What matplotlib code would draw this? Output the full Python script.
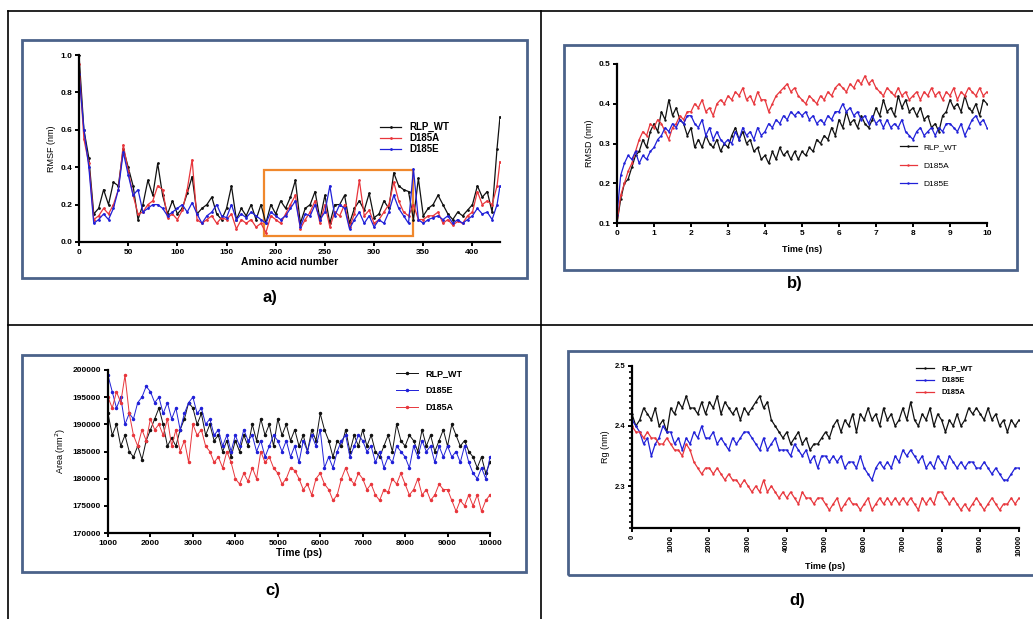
import numpy as np
import matplotlib
matplotlib.use("Agg")
import matplotlib.pyplot as plt
from matplotlib.patches import Rectangle
from matplotlib.lines import Line2D
from matplotlib.ticker import FormatStrFormatter

plt.rcParams['font.family'] = ['Liberation Sans', 'DejaVu Sans']

W, H = 1033, 619

# ---- a) RMSF per residue ----
residue = list(range(0, 430, 5)) + [428]
rmsf_wt = [1.0, 0.6, 0.45, 0.15, 0.18, 0.28, 0.2, 0.32, 0.3, 0.5, 0.4, 0.3, 0.12, 0.2, 0.33, 0.25,
           0.42, 0.25, 0.15, 0.22, 0.15, 0.18, 0.26, 0.35, 0.15, 0.18, 0.2, 0.24, 0.15, 0.12,
           0.18, 0.3, 0.12, 0.18, 0.14, 0.2, 0.12, 0.2, 0.1, 0.2, 0.15, 0.22, 0.18, 0.24, 0.33,
           0.1, 0.18, 0.2, 0.27, 0.12, 0.25, 0.1, 0.2, 0.2, 0.25, 0.1, 0.18, 0.22, 0.17, 0.26,
           0.13, 0.15, 0.22, 0.18, 0.37, 0.3, 0.28, 0.27, 0.12, 0.34, 0.14, 0.18, 0.2, 0.25,
           0.2, 0.15, 0.12, 0.16, 0.14, 0.17, 0.2, 0.3, 0.24, 0.27, 0.16, 0.5, 0.67]
rmsf_d185a = [0.95, 0.55, 0.42, 0.12, 0.14, 0.18, 0.15, 0.2, 0.28, 0.52, 0.38, 0.25, 0.15, 0.16, 0.2,
              0.22, 0.3, 0.28, 0.13, 0.15, 0.12, 0.17, 0.28, 0.44, 0.12, 0.1, 0.12, 0.14, 0.1,
              0.13, 0.12, 0.15, 0.07, 0.12, 0.1, 0.12, 0.08, 0.1, 0.05, 0.14, 0.12, 0.1, 0.15,
              0.2, 0.25, 0.07, 0.12, 0.16, 0.22, 0.1, 0.2, 0.08, 0.16, 0.14, 0.2, 0.08, 0.15,
              0.33, 0.14, 0.17, 0.1, 0.12, 0.16, 0.2, 0.32, 0.22, 0.16, 0.14, 0.2, 0.12, 0.12,
              0.14, 0.14, 0.16, 0.1, 0.12, 0.09, 0.11, 0.1, 0.14, 0.16, 0.27, 0.2, 0.22, 0.2,
              0.3, 0.43]
rmsf_d185e = [0.9, 0.6, 0.4, 0.1, 0.12, 0.15, 0.12, 0.18, 0.28, 0.48, 0.36, 0.25, 0.28, 0.16, 0.18,
              0.2, 0.2, 0.18, 0.14, 0.16, 0.18, 0.2, 0.16, 0.21, 0.15, 0.1, 0.14, 0.16, 0.2,
              0.14, 0.13, 0.2, 0.12, 0.15, 0.13, 0.16, 0.14, 0.12, 0.1, 0.16, 0.14, 0.12, 0.14,
              0.18, 0.22, 0.08, 0.15, 0.14, 0.2, 0.12, 0.16, 0.3, 0.14, 0.2, 0.18, 0.07, 0.12,
              0.16, 0.1, 0.14, 0.08, 0.12, 0.1, 0.16, 0.25, 0.18, 0.14, 0.1, 0.39, 0.12, 0.1,
              0.12, 0.13, 0.14, 0.12, 0.14, 0.1, 0.12, 0.1, 0.12, 0.14, 0.18, 0.15, 0.16, 0.12,
              0.2, 0.3]

# ---- b) RMSD vs time (ns), every 0.1 ns ----
time_ns = [i / 10 for i in range(101)]
rmsd_wt = [0.10, 0.16, 0.20, 0.21, 0.24, 0.27, 0.28, 0.31, 0.29, 0.33,
           0.35, 0.33, 0.38, 0.36, 0.41, 0.37, 0.39, 0.36, 0.35, 0.32,
           0.34, 0.29, 0.31, 0.29, 0.32, 0.30, 0.29, 0.31, 0.28, 0.30,
           0.29, 0.32, 0.34, 0.31, 0.33, 0.30, 0.31, 0.28, 0.29, 0.26,
           0.27, 0.25, 0.28, 0.26, 0.29, 0.27, 0.28, 0.26, 0.28, 0.26,
           0.28, 0.27, 0.29, 0.28, 0.31, 0.30, 0.32, 0.31, 0.34, 0.32,
           0.36, 0.34, 0.38, 0.35, 0.36, 0.34, 0.37, 0.35, 0.34, 0.36,
           0.39, 0.37, 0.41, 0.38, 0.39, 0.37, 0.42, 0.39, 0.41, 0.38,
           0.39, 0.37, 0.39, 0.36, 0.37, 0.34, 0.35, 0.33, 0.37, 0.38,
           0.41, 0.39, 0.40, 0.38, 0.42, 0.39, 0.38, 0.40, 0.37, 0.41,
           0.40]
rmsd_d185a = [0.10, 0.17, 0.20, 0.23, 0.25, 0.28, 0.31, 0.33, 0.32, 0.35,
              0.34, 0.36, 0.35, 0.33, 0.31, 0.34, 0.35, 0.37, 0.36, 0.38,
              0.38, 0.40, 0.39, 0.41, 0.38, 0.39, 0.37, 0.40, 0.41, 0.40,
              0.42, 0.41, 0.43, 0.42, 0.44, 0.41, 0.42, 0.40, 0.43, 0.41,
              0.41, 0.38, 0.40, 0.42, 0.43, 0.44, 0.45, 0.43, 0.44, 0.42,
              0.41, 0.40, 0.42, 0.41, 0.40, 0.42, 0.41, 0.43, 0.42, 0.44,
              0.45, 0.44, 0.43, 0.45, 0.44, 0.46, 0.45, 0.47, 0.45, 0.46,
              0.44, 0.43, 0.42, 0.44, 0.43, 0.42, 0.44, 0.42, 0.43, 0.41,
              0.42, 0.43, 0.41, 0.43, 0.42, 0.44, 0.42, 0.43, 0.41, 0.43,
              0.42, 0.44, 0.41, 0.43, 0.42, 0.44, 0.43, 0.42, 0.44, 0.42,
              0.43]
rmsd_d185e = [0.12, 0.22, 0.25, 0.27, 0.26, 0.28, 0.25, 0.27, 0.26, 0.28,
              0.29, 0.31, 0.32, 0.34, 0.33, 0.35, 0.34, 0.36, 0.35, 0.37,
              0.37, 0.35, 0.34, 0.36, 0.32, 0.34, 0.31, 0.33, 0.31, 0.30,
              0.31, 0.30, 0.33, 0.31, 0.34, 0.32, 0.33, 0.31, 0.34, 0.32,
              0.33, 0.35, 0.34, 0.36, 0.35, 0.37, 0.36, 0.38, 0.37, 0.38,
              0.37, 0.38, 0.36, 0.37, 0.35, 0.36, 0.35, 0.37, 0.36, 0.38,
              0.38, 0.40, 0.38, 0.39, 0.37, 0.38, 0.36, 0.37, 0.35, 0.37,
              0.35, 0.36, 0.34, 0.36, 0.34, 0.35, 0.34, 0.36, 0.33, 0.32,
              0.31, 0.33, 0.34, 0.32, 0.33, 0.34, 0.32, 0.34, 0.33, 0.35,
              0.35, 0.34, 0.33, 0.35, 0.32, 0.34, 0.36, 0.37, 0.35, 0.36,
              0.34]

# ---- c) SASA vs time (ps), every 100 ps ----
time_area = list(range(1000, 10001, 100))
area_wt = [192000, 188000, 190000, 186000, 188000, 185000, 184000, 186000, 183500, 187000,
           189000, 191000, 193000, 190000, 186000, 187500, 186000, 189000, 191000, 194000,
           193000, 190000, 192000, 188000, 190000, 187000, 188000, 185000, 187000, 184000,
           187000, 185000, 188000, 186000, 190000, 187000, 191000, 188000, 190000, 186000,
           191000, 188000, 190000, 187000, 189000, 186000, 188000, 185000, 189000, 187000,
           192000, 189000, 187000, 184000, 187000, 186000, 189000, 185000, 188000, 186000,
           189000, 186000, 188000, 185000, 184000, 186000, 188000, 185000, 190000, 187000,
           186000, 188000, 187000, 185000, 189000, 186000, 188000, 185000, 187000, 189000,
           186000, 190000, 188000, 186000, 187000, 185000, 184000, 182000, 184000, 181000,
           183000]
area_d185e = [199000, 196000, 193000, 195000, 190000, 192000, 191000, 194000, 195000, 197000,
              196000, 194000, 195000, 192000, 194000, 191000, 193000, 189000, 192000, 194000,
              195000, 192000, 193000, 190000, 191000, 188000, 189000, 186000, 188000, 185000,
              188000, 186000, 189000, 187000, 188000, 185000, 187000, 184000, 186000, 188000,
              187000, 185000, 187000, 184000, 186000, 183000, 187000, 185000, 188000, 186000,
              189000, 182000, 184000, 182000, 185000, 187000, 188000, 184000, 186000, 188000,
              187000, 185000, 186000, 183000, 185000, 182000, 184000, 183000, 186000, 185000,
              184000, 182000, 186000, 184000, 187000, 185000, 186000, 183000, 186000, 184000,
              186000, 184000, 185000, 183000, 186000, 183000, 181000, 180000, 182000, 180000,
              184000]
area_d185a = [195000, 193000, 196000, 194000, 199000, 192000, 188000, 186000, 189000, 187000,
              191000, 189000, 190000, 188000, 191000, 186000, 189000, 185000, 187000, 183000,
              190000, 188000, 189000, 186000, 185000, 183000, 184000, 182000, 185000, 183000,
              180000, 179000, 181000, 179500, 182000, 180000, 185000, 183000, 184000, 182000,
              181000, 179000, 180000, 182000, 181500, 180000, 178000, 179000, 177000, 180000,
              181000, 179000, 178000, 176000, 177000, 180000, 182000, 180000, 179000, 181000,
              180000, 178000, 179000, 177000, 176000, 178000, 177500, 180000, 179000, 181000,
              179000, 177000, 178000, 180000, 177000, 178000, 176000, 177000, 179000, 178000,
              178000, 176000, 174000, 176000, 175000, 177000, 175000, 177000, 174000, 176000,
              177000]

# ---- d) Rg vs time (ps), every 100 ps ----
time_rg = list(range(0, 10001, 100))
rg_wt = [2.42, 2.40, 2.41, 2.43, 2.42, 2.41, 2.43, 2.40, 2.41, 2.39,
         2.43, 2.42, 2.44, 2.43, 2.45, 2.43, 2.43, 2.42, 2.44, 2.42,
         2.44, 2.43, 2.45, 2.42, 2.44, 2.43, 2.42, 2.43, 2.41, 2.43,
         2.42, 2.43, 2.44, 2.45, 2.43, 2.44, 2.41, 2.40, 2.39, 2.38,
         2.39, 2.37, 2.38, 2.39, 2.37, 2.38, 2.36, 2.37, 2.37, 2.38,
         2.39, 2.38, 2.40, 2.41, 2.39, 2.41, 2.40, 2.42, 2.39, 2.42,
         2.41, 2.43, 2.41, 2.42, 2.40, 2.43, 2.41, 2.42, 2.40, 2.41,
         2.43, 2.41, 2.44, 2.41, 2.40, 2.42, 2.41, 2.43, 2.40, 2.42,
         2.41, 2.39, 2.41, 2.40, 2.42, 2.40, 2.41, 2.43, 2.42, 2.43,
         2.42, 2.41, 2.43, 2.41, 2.42, 2.40, 2.41, 2.39, 2.41, 2.40,
         2.41]
rg_d185e = [2.41, 2.40, 2.39, 2.37, 2.38, 2.35, 2.37, 2.38, 2.40, 2.39,
            2.39, 2.37, 2.38, 2.36, 2.38, 2.37, 2.39, 2.38, 2.40, 2.38,
            2.38, 2.39, 2.37, 2.38, 2.37, 2.36, 2.38, 2.37, 2.38, 2.39,
            2.39, 2.38, 2.37, 2.36, 2.38, 2.36, 2.37, 2.38, 2.36, 2.36,
            2.36, 2.35, 2.37, 2.36, 2.35, 2.36, 2.34, 2.35, 2.33, 2.35,
            2.35, 2.34, 2.35, 2.34, 2.35, 2.33, 2.34, 2.34, 2.33, 2.35,
            2.33, 2.32, 2.31, 2.33, 2.34, 2.33, 2.34, 2.33, 2.35, 2.34,
            2.36, 2.35, 2.36, 2.35, 2.34, 2.35, 2.33, 2.34, 2.33, 2.35,
            2.34, 2.33, 2.35, 2.34, 2.33, 2.34, 2.33, 2.34, 2.34, 2.33,
            2.33, 2.34, 2.33, 2.32, 2.33, 2.32, 2.31, 2.31, 2.32, 2.33,
            2.33]
rg_d185a = [2.40, 2.39, 2.39, 2.38, 2.39, 2.38, 2.38, 2.37, 2.37, 2.38,
            2.37, 2.36, 2.36, 2.35, 2.37, 2.36, 2.34, 2.33, 2.32, 2.33,
            2.33, 2.32, 2.33, 2.32, 2.31, 2.32, 2.31, 2.31, 2.30, 2.31,
            2.30, 2.29, 2.30, 2.29, 2.31, 2.29, 2.30, 2.29, 2.28, 2.29,
            2.28, 2.29, 2.28, 2.27, 2.29, 2.28, 2.28, 2.27, 2.28, 2.28,
            2.27, 2.26, 2.27, 2.28, 2.26, 2.27, 2.28, 2.27, 2.27, 2.26,
            2.27, 2.28, 2.26, 2.27, 2.28, 2.27, 2.28, 2.27, 2.28, 2.27,
            2.28, 2.27, 2.28, 2.27, 2.26, 2.28, 2.27, 2.28, 2.27, 2.29,
            2.29, 2.28, 2.27, 2.28, 2.27, 2.26, 2.27, 2.26, 2.27, 2.28,
            2.27, 2.26, 2.27, 2.28, 2.27, 2.26, 2.27, 2.27, 2.28, 2.27,
            2.28]

BLACK = '#111111'
RED = '#e8363c'
BLUE = '#2020d8'
FRAME = '#4b628a'


def px_rect(x0, y0, x1, y1):
    return [x0 / W, 1 - y1 / H, (x1 - x0) / W, (y1 - y0) / H]


def style_axes(ax, fs=6):
    for s in ['top', 'right']:
        ax.spines[s].set_visible(False)
    for s in ['left', 'bottom']:
        ax.spines[s].set_linewidth(1.6)
    ax.tick_params(width=1.4, length=3, labelsize=fs, pad=2)
    for lab in ax.get_xticklabels() + ax.get_yticklabels():
        lab.set_fontweight('bold')
    ax.patch.set_alpha(0)


fig = plt.figure(figsize=(W / 100, H / 100), dpi=100)

# table grid lines
for x in [8, 541]:
    fig.add_artist(Line2D([x / W, x / W], [0, 1 - 11 / H], color='black', lw=1.2))
for y in [11, 325]:
    fig.add_artist(Line2D([8 / W, 1], [1 - y / H, 1 - y / H], color='black', lw=1.2))

# panel frames
for (x0, y0, x1, y1) in [(22, 40, 527, 278), (564, 45, 1017, 270),
                         (22, 355, 526, 572), (568, 351, 1045, 575)]:
    fig.add_artist(Rectangle((x0 / W, 1 - y1 / H), (x1 - x0) / W, (y1 - y0) / H,
                             fill=False, edgecolor=FRAME, lw=2))

# a)
ax = fig.add_axes(px_rect(79, 55, 500, 242))
kw = dict(lw=0.9, marker='.', ms=2)
ax.plot(residue, rmsf_wt, color=BLACK, label='RLP_WT', **kw)
ax.plot(residue, rmsf_d185a, color=RED, label='D185A', **kw)
ax.plot(residue, rmsf_d185e, color=BLUE, label='D185E', **kw)
ax.add_patch(Rectangle((188, 0.03), 152, 0.355, fill=False, edgecolor='#f0882c', lw=1.6))
ax.set_xlim(0, 428)
ax.set_ylim(0, 1.0)
ax.set_xticks(range(0, 401, 50))
ax.set_yticks(np.arange(0, 1.01, 0.2))
ax.yaxis.set_major_formatter(FormatStrFormatter('%.1f'))
ax.set_xlabel('Amino acid number', fontsize=7.5, fontweight='bold', labelpad=1)
ax.set_ylabel('RMSF (nm)', fontsize=6.5, labelpad=3)
style_axes(ax)
ax.legend(loc='upper left', bbox_to_anchor=(380 / W, 1 - 122 / H), bbox_transform=fig.transFigure,
          frameon=False, prop={'weight': 'bold', 'size': 7}, handlelength=2.2,
          handletextpad=0.8, labelspacing=0.1, borderpad=0, borderaxespad=0)

# b)
ax = fig.add_axes(px_rect(617, 64, 987, 223))
kw = dict(lw=0.9, marker='.', ms=1.5)
ax.plot(time_ns, rmsd_wt, color=BLACK, label='RLP_WT', **kw)
ax.plot(time_ns, rmsd_d185a, color=RED, label='D185A', **kw)
ax.plot(time_ns, rmsd_d185e, color=BLUE, label='D185E', **kw)
ax.set_xlim(0, 10)
ax.set_ylim(0.1, 0.5)
ax.set_xticks(range(0, 11))
ax.set_yticks(np.arange(0.1, 0.51, 0.1))
ax.yaxis.set_major_formatter(FormatStrFormatter('%.1f'))
ax.set_xlabel('Time (ns)', fontsize=6.5, fontweight='bold', labelpad=6)
ax.set_ylabel('RMSD (nm)', fontsize=6.5, labelpad=3)
style_axes(ax)
ax.legend(loc='upper left', bbox_to_anchor=(900 / W, 1 - 143 / H), bbox_transform=fig.transFigure,
          frameon=False, prop={'size': 6}, handlelength=2.0, handletextpad=0.8,
          labelspacing=1.3, borderpad=0, borderaxespad=0)

# c)
ax = fig.add_axes(px_rect(108, 370, 490, 533))
kw = dict(lw=0.7, marker='.', ms=3)
ax.plot(time_area, area_wt, color=BLACK, label='RLP_WT', **kw)
ax.plot(time_area, area_d185e, color=BLUE, label='D185E', **kw)
ax.plot(time_area, area_d185a, color=RED, label='D185A', **kw)
ax.set_xlim(1000, 10000)
ax.set_ylim(170000, 200000)
ax.set_xticks(range(1000, 10001, 1000))
ax.set_yticks(range(170000, 200001, 5000))
ax.set_xlabel('Time (ps)', fontsize=7.5, fontweight='bold', labelpad=1)
ax.set_ylabel('Area (nm$^2$)', fontsize=6.5, labelpad=3)
style_axes(ax)
ax.legend(loc='upper left', bbox_to_anchor=(396 / W, 1 - 369 / H), bbox_transform=fig.transFigure,
          frameon=False, prop={'weight': 'bold', 'size': 6.5}, handlelength=2.4,
          handletextpad=0.9, labelspacing=0.9, borderpad=0, borderaxespad=0)

# d)
ax = fig.add_axes(px_rect(632, 366, 1019, 528))
kw = dict(lw=0.9, marker='.', ms=1.5)
ax.plot(time_rg, rg_wt, color=BLACK, label='RLP_WT', **kw)
ax.plot(time_rg, rg_d185e, color=BLUE, label='D185E', **kw)
ax.plot(time_rg, rg_d185a, color=RED, label='D185A', **kw)
ax.set_xlim(0, 10000)
ax.set_ylim(2.23, 2.5)
ax.set_xticks(range(0, 10001, 1000))
ax.set_yticks([2.3, 2.4, 2.5])
ax.set_yticks(np.arange(2.23, 2.5, 0.01), minor=True)
ax.tick_params(axis='y', which='minor', length=2, width=1.2)
ax.yaxis.set_major_formatter(FormatStrFormatter('%.1f'))
ax.set_xlabel('Time (ps)', fontsize=6.5, fontweight='bold', labelpad=4)
ax.set_ylabel('Rg (nm)', fontsize=6.5, labelpad=3)
style_axes(ax, fs=5.5)
for lab in ax.get_xticklabels():
    lab.set_rotation(90)
ax.legend(loc='upper left', bbox_to_anchor=(916 / W, 1 - 365 / H), bbox_transform=fig.transFigure,
          frameon=False, prop={'weight': 'bold', 'size': 5.5}, handlelength=2.4,
          handletextpad=0.9, labelspacing=0.6, borderpad=0, borderaxespad=0)

# panel letters
for txt, x, y in [('a)', 270, 298), ('b)', 795, 284), ('c)', 273, 591), ('d)', 797, 601)]:
    fig.text(x / W, 1 - y / H, txt, fontsize=12, fontweight='bold', ha='center', va='center')

fig.savefig('out.png', dpi=100)
